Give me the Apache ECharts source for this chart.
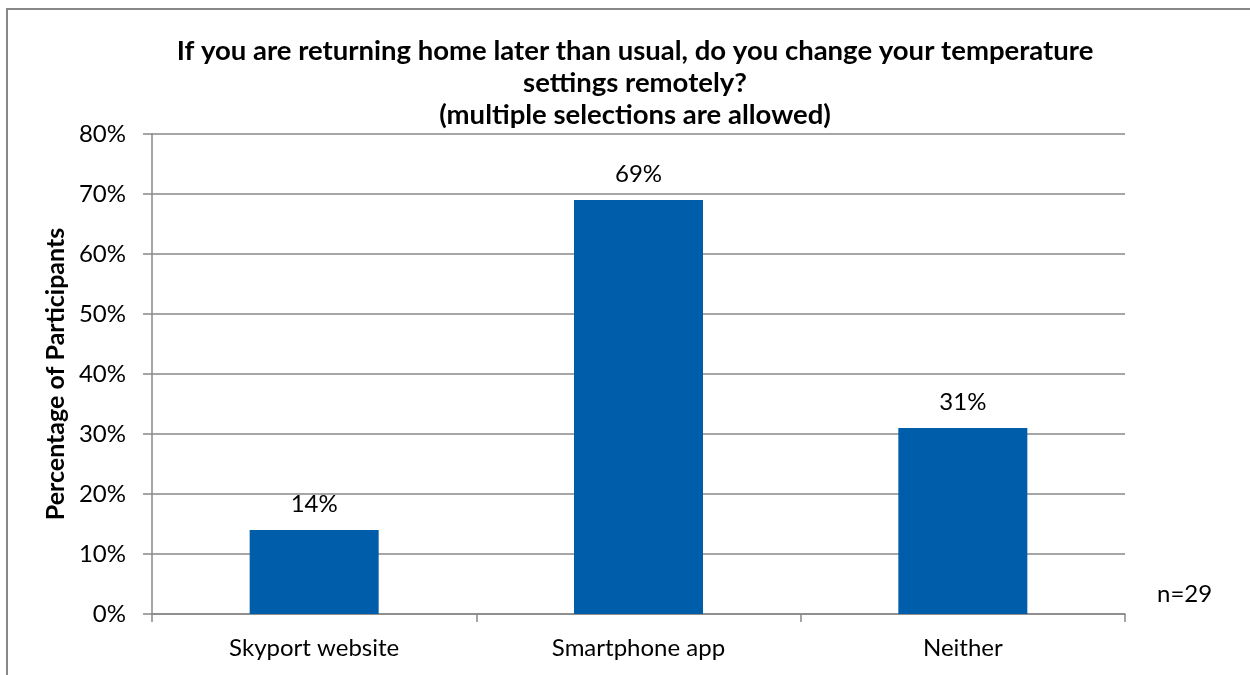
<!DOCTYPE html>
<html>
<head>
<meta charset="utf-8">
<script src="https://cdn.jsdelivr.net/npm/echarts@6/dist/echarts.min.js"></script>
<style>
html,body{margin:0;padding:0;background:#fff;}
#chart{width:1250px;height:675px;}
</style>
</head>
<body>
<div id="chart"></div>
<script>
var categories = ['Skyport website', 'Smartphone app', 'Neither'];
var values = [14, 69, 31];
var yTicks = [0, 10, 20, 30, 40, 50, 60, 70, 80];
var titleText = 'If you are returning home later than usual, do you change your temperature\nsettings remotely?\n(multiple selections are allowed)';
var yAxisName = 'Percentage of Participants';
var noteText = 'n=29';

var FONT = 'Lato, "Liberation Sans", sans-serif';
var chart = echarts.init(document.getElementById('chart'), null, {renderer: 'canvas'});
chart.setOption({
  animation: false,
  backgroundColor: '#ffffff',
  title: {
    text: titleText,
    left: 630,
    textAlign: 'center',
    top: 30,
    textStyle: {fontFamily: FONT, fontWeight: 'bold', fontSize: 27.5, lineHeight: 32, color: '#000'}
  },
  graphic: [
    {type: 'rect', shape: {x: 7, y: 9, width: 1300, height: 700}, style: {fill: 'none', stroke: '#888888', lineWidth: 2}, silent: true},
    {type: 'text', left: 1157, top: 582, style: {text: noteText, fontFamily: FONT, fontSize: 24, fill: '#000'}}
  ],
  grid: {left: 152, right: 125, top: 134, bottom: 61, containLabel: false},
  xAxis: {
    type: 'category',
    data: categories,
    axisLine: {show: true, lineStyle: {color: '#888888', width: 1.5}},
    axisTick: {show: true, length: 8, alignWithLabel: false, lineStyle: {color: '#888888', width: 1.5}},
    axisLabel: {fontFamily: FONT, fontSize: 24, color: '#000', margin: 22}
  },
  yAxis: {
    type: 'value',
    min: 0, max: 80, interval: 10,
    name: yAxisName,
    nameLocation: 'middle',
    nameGap: 76,
    nameTextStyle: {fontFamily: FONT, fontWeight: 'bold', fontSize: 25, color: '#000'},
    axisLine: {show: true, lineStyle: {color: '#888888', width: 1.5}},
    axisTick: {show: true, length: 9, lineStyle: {color: '#888888', width: 1.5}},
    splitLine: {show: true, lineStyle: {color: '#888888', width: 1.5}},
    axisLabel: {fontFamily: FONT, fontSize: 24, color: '#000', margin: 26,
      formatter: function (v) { return yTicks.indexOf(v) >= 0 ? v + '%' : ''; }}
  },
  series: [{
    type: 'bar',
    data: values,
    barWidth: 129,
    itemStyle: {color: '#005DAA'},
    label: {show: true, position: 'top', distance: 14, fontFamily: FONT, fontSize: 24, color: '#000',
      formatter: function (p) { return p.value + '%'; }}
  }]
});
</script>
</body>
</html>
